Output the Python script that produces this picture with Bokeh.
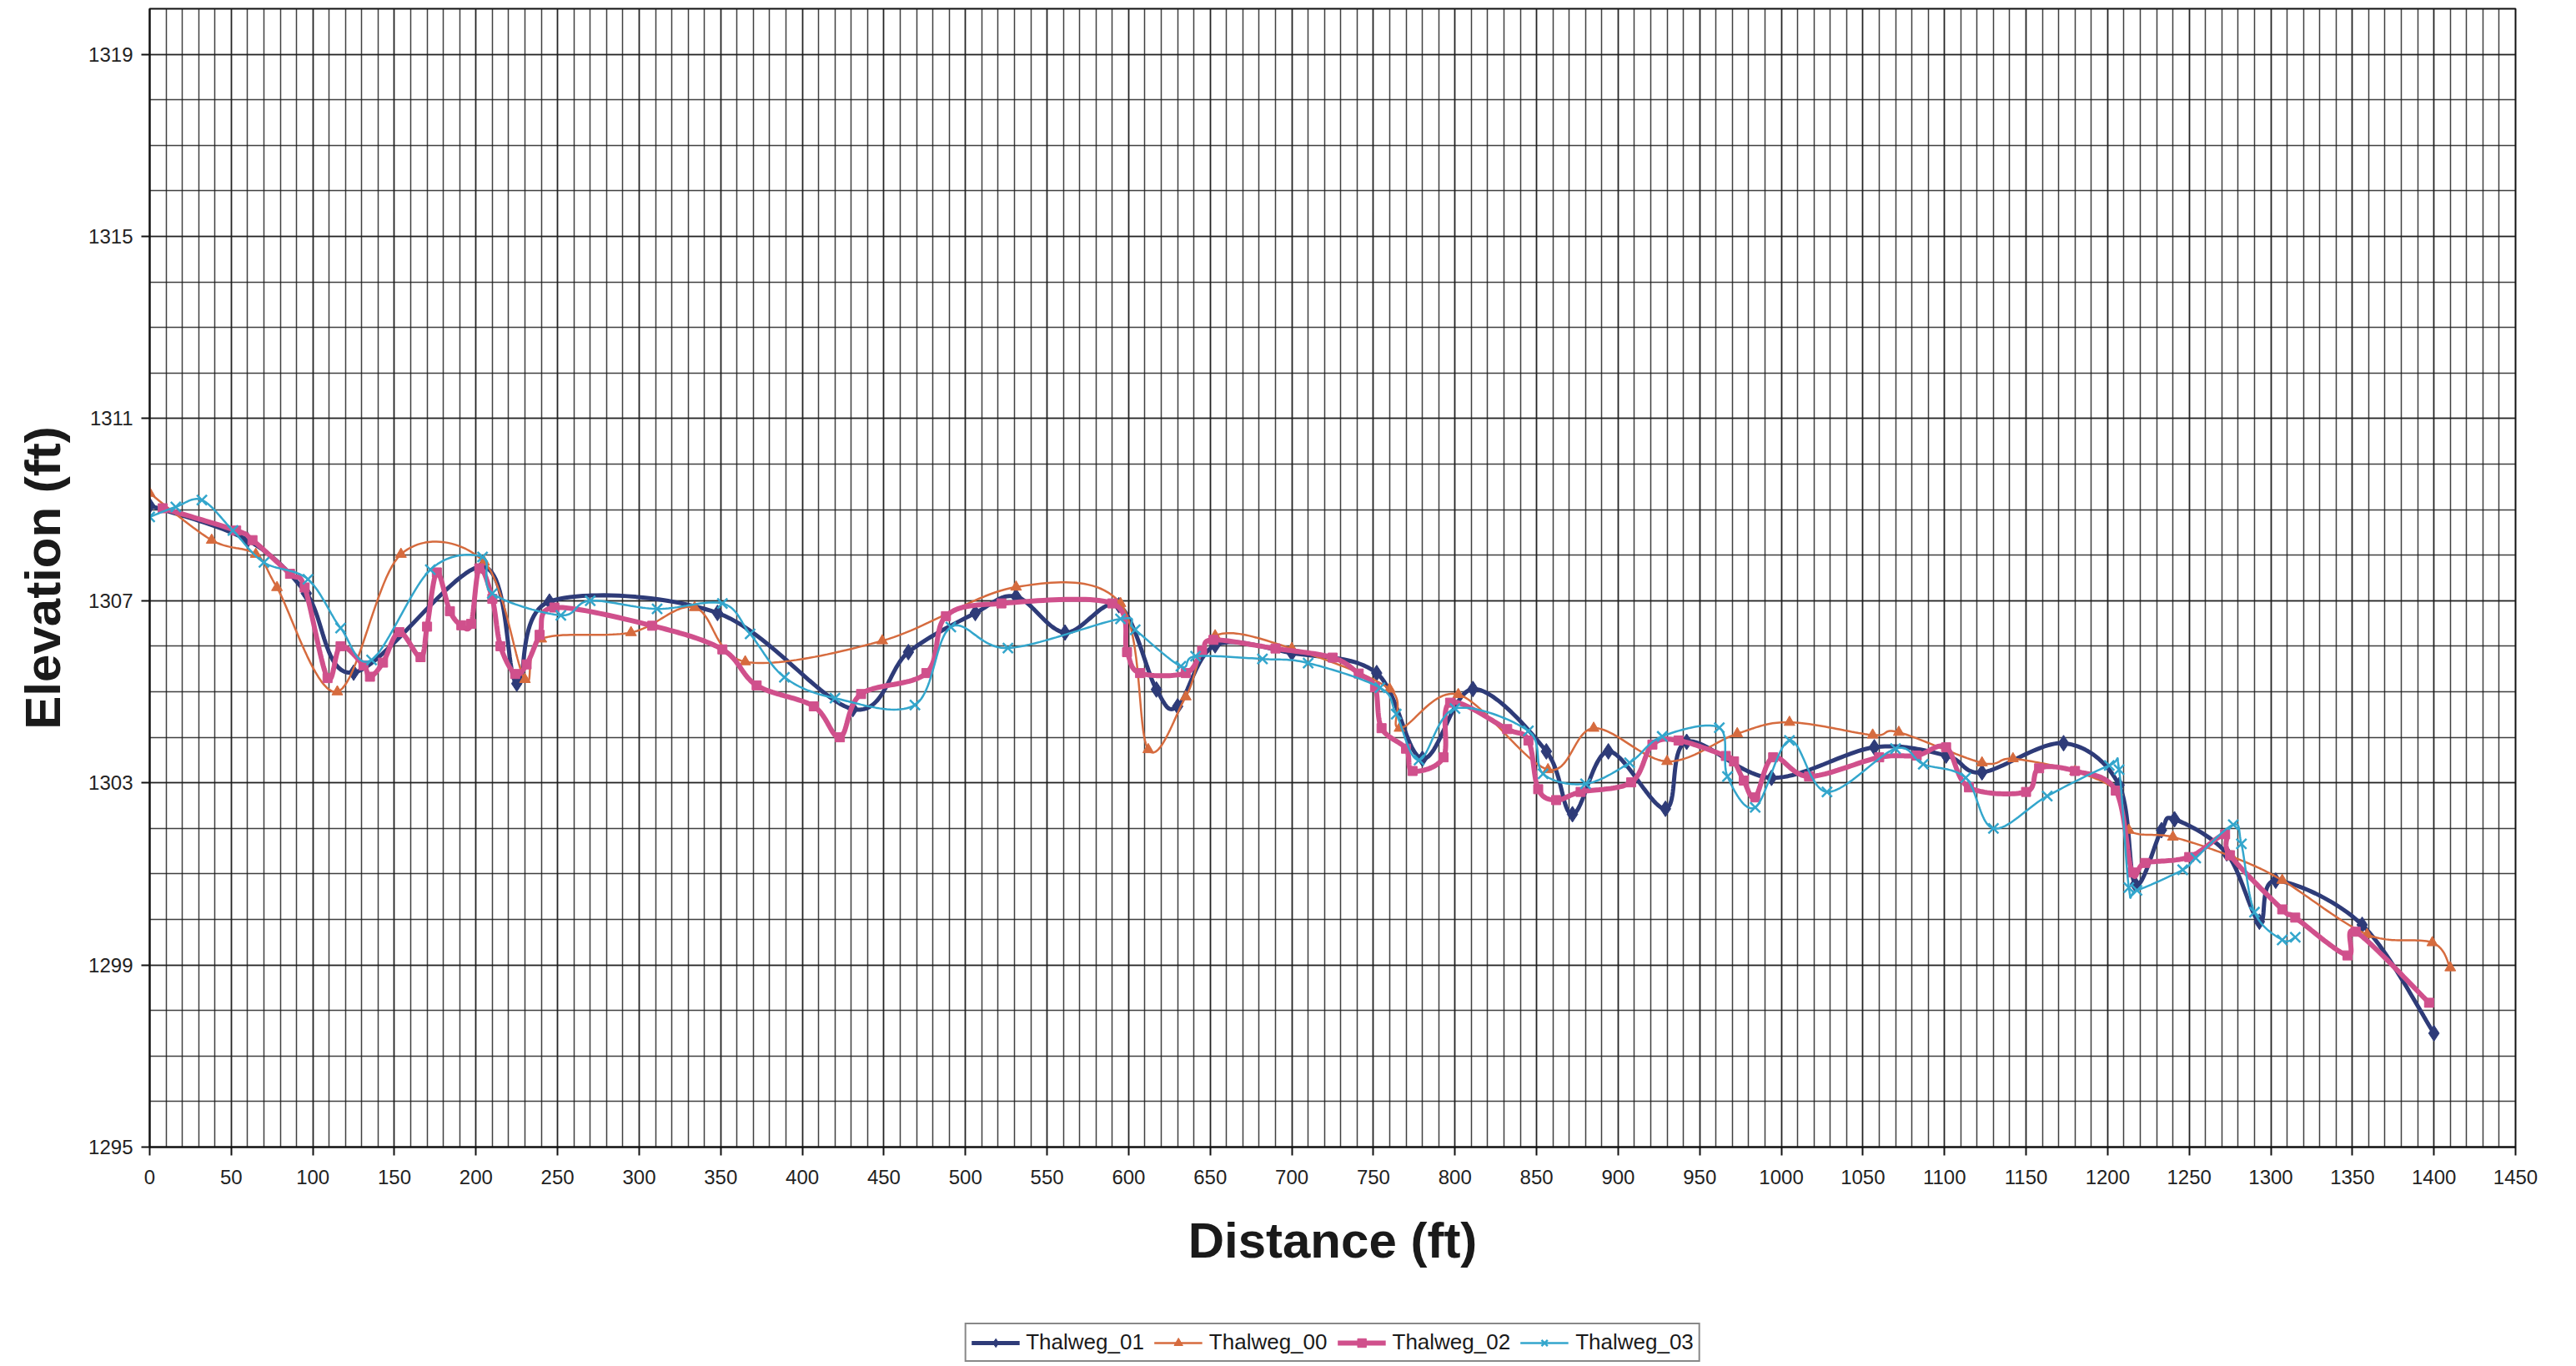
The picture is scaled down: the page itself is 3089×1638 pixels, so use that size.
import numpy as np
from bokeh.plotting import figure
from bokeh.layouts import column
from bokeh.models import Range1d, FixedTicker, Legend, LegendItem
from bokeh.embed import file_html
from bokeh.resources import INLINE

# ---------------- data (distance ft, elevation ft) ----------------
dist_01 = [0, 60, 96, 125, 204, 225, 245, 348, 431, 465, 506, 531, 561, 594, 617, 630, 653, 700, 752, 780,
           811, 856, 872, 894, 929, 942, 994, 1057, 1101, 1123, 1173, 1207, 1217, 1233, 1241, 1273, 1293, 1303, 1356, 1400]
elev_01 = [1309.09, 1308.33, 1307.16, 1305.42, 1307.75, 1305.18, 1306.98, 1306.73, 1304.62, 1305.87,
           1306.73, 1307.09, 1306.30, 1306.90, 1305.05, 1304.68, 1306.02, 1305.85, 1305.41, 1303.53,
           1305.06, 1303.69, 1302.31, 1303.69, 1302.43, 1303.90, 1303.11, 1303.78, 1303.60, 1303.23,
           1303.87, 1302.95, 1300.77, 1301.96, 1302.20, 1301.45, 1299.95, 1300.85, 1299.88, 1297.50]

dist_00 = [0, 38, 65, 78, 115, 154, 205, 230, 240, 295, 334, 365, 449, 531, 595, 612, 635, 653, 700, 760,
           766, 802, 857, 885, 930, 973, 1005, 1056, 1072, 1123, 1142, 1180, 1206, 1213, 1240, 1276, 1307, 1359, 1399, 1410]
elev_00 = [1309.36, 1308.33, 1308.02, 1307.29, 1305.00, 1308.02, 1307.85, 1305.27, 1306.16, 1306.30,
           1306.85, 1305.66, 1306.12, 1307.30, 1306.94, 1303.73, 1304.89, 1306.23, 1305.95, 1305.06,
           1304.20, 1304.94, 1303.29, 1304.20, 1303.47, 1304.08, 1304.33, 1304.05, 1304.11, 1303.44,
           1303.53, 1303.25, 1302.80, 1301.96, 1301.81, 1301.38, 1300.86, 1299.67, 1299.49, 1298.94]

dist_02 = [8, 53, 63, 86, 95, 109, 117, 131, 135, 143, 153, 166, 170, 176, 184, 191, 197, 202, 210, 215,
           224, 231, 239, 248, 308, 351, 372, 407, 423, 436, 476, 488, 522, 590, 599, 607, 635, 645, 652, 690,
           725, 741, 751, 755, 770, 774, 793, 797, 832, 845, 851, 862, 877, 908, 921, 937, 966, 971, 977, 984,
           995, 1017, 1060, 1083, 1101, 1115, 1150, 1158, 1180, 1205, 1215, 1223, 1250, 1272, 1275, 1307, 1315, 1347, 1352, 1397]
elev_02 = [1309.03, 1308.54, 1308.33, 1307.59, 1307.29, 1305.30, 1306.00, 1305.58, 1305.33, 1305.64,
           1306.31, 1305.76, 1306.43, 1307.62, 1306.77, 1306.46, 1306.49, 1307.71, 1307.04, 1306.00,
           1305.39, 1305.60, 1306.25, 1306.85, 1306.45, 1305.93, 1305.14, 1304.68, 1304.00, 1304.95,
           1305.41, 1306.66, 1306.94, 1306.94, 1305.87, 1305.41, 1305.41, 1305.90, 1306.14, 1305.95,
           1305.75, 1305.40, 1305.10, 1304.20, 1303.75, 1303.26, 1303.56, 1304.76, 1304.18, 1303.93,
           1302.86, 1302.62, 1302.80, 1303.01, 1303.84, 1303.93, 1303.59, 1303.47, 1303.05, 1302.68,
           1303.56, 1303.14, 1303.56, 1303.60, 1303.78, 1302.90, 1302.80, 1303.32, 1303.26, 1302.83,
           1301.03, 1301.24, 1301.37, 1301.87, 1301.41, 1300.22, 1300.04, 1299.21, 1299.73, 1298.17]

dist_03 = [0, 16, 32, 51, 70, 97, 117, 136, 172, 204, 210, 252, 270, 311, 351, 368, 389, 420, 469, 491,
           526, 595, 604, 632, 641, 682, 710, 754, 764, 778, 800, 845, 854, 880, 907, 927, 962, 967, 984, 1005,
           1028, 1070, 1087, 1113, 1130, 1163, 1201, 1207, 1213, 1218, 1246, 1254, 1277, 1282, 1290, 1307, 1315]
elev_03 = [1308.84, 1309.06, 1309.21, 1308.54, 1307.84, 1307.47, 1306.40, 1305.70, 1307.68, 1307.96,
           1307.16, 1306.68, 1307.00, 1306.82, 1306.94, 1306.27, 1305.32, 1304.86, 1304.71, 1306.42,
           1305.96, 1306.60, 1306.36, 1305.56, 1305.78, 1305.72, 1305.63, 1305.09, 1304.51, 1303.50,
           1304.63, 1304.14, 1303.20, 1302.98, 1303.44, 1304.02, 1304.21, 1303.14, 1302.46, 1303.93,
           1302.80, 1303.75, 1303.41, 1303.11, 1302.00, 1302.71, 1303.38, 1303.29, 1300.70, 1300.64,
           1301.09, 1301.35, 1302.08, 1301.66, 1300.16, 1299.55, 1299.61]

series_names = ["Thalweg_01", "Thalweg_00", "Thalweg_02", "Thalweg_03"]

x_ticks = list(range(0, 1451, 50))
x_minor = list(range(0, 1451, 10))
y_ticks = [1295, 1299, 1303, 1307, 1311, 1315, 1319]
y_minor = list(range(1295, 1321))


def smooth(xs, ys, n=24):
    """Excel-like smoothed line: cubic Bezier with Catmull-Rom control points."""
    x = np.asarray(xs, float)
    y = np.asarray(ys, float)
    P = np.column_stack([x, y])
    Pe = np.vstack([P[0], P, P[-1]])
    t = np.linspace(0, 1, n, endpoint=False)[:, None]
    out = []
    for i in range(len(P) - 1):
        p0, p1, p2, p3 = Pe[i], Pe[i + 1], Pe[i + 2], Pe[i + 3]
        b1 = p1 + (p2 - p0) / 6.0
        b2 = p2 - (p3 - p1) / 6.0
        seg = ((1 - t) ** 3) * p1 + 3 * ((1 - t) ** 2) * t * b1 + 3 * (1 - t) * t ** 2 * b2 + t ** 3 * p2
        out.append(seg)
    out.append(P[-1][None, :])
    arr = np.vstack(out)
    return arr[:, 0], arr[:, 1]


W = 3078
p = figure(width=W, height=1540, x_range=Range1d(0, 1450), y_range=Range1d(1295, 1320),
           output_backend="svg", toolbar_location=None,
           min_border_left=179, min_border_right=62, min_border_top=10, min_border_bottom=165)
p.background_fill_color = "white"
p.border_fill_color = "white"
p.outline_line_color = "#111111"
p.outline_line_width = 2

xt = FixedTicker(ticks=x_ticks, minor_ticks=x_minor)
yt = FixedTicker(ticks=y_ticks, minor_ticks=y_minor)
xax = p.xaxis[0]
yax = p.yaxis[0]
xax.ticker = xt
yax.ticker = yt
p.xgrid.ticker = xt
p.ygrid.ticker = yt
for g in (p.xgrid, p.ygrid):
    g.grid_line_color = "#1e1e1e"
    g.grid_line_width = 1.5
    g.grid_line_alpha = 0.85
    g.minor_grid_line_color = "#1e1e1e"
    g.minor_grid_line_width = 1.5
    g.minor_grid_line_alpha = 0.85

for ax in (xax, yax):
    ax.axis_line_color = "#111111"
    ax.axis_line_width = 2
    ax.major_tick_line_color = "#111111"
    ax.major_tick_line_width = 2
    ax.major_tick_out = 10
    ax.major_tick_in = 0
    ax.minor_tick_line_color = None
    ax.major_label_text_font = "Liberation Sans"
    ax.major_label_text_font_size = "24px"
    ax.major_label_text_color = "#222222"
    ax.axis_label_text_font = "Liberation Sans"
    ax.axis_label_text_font_style = "bold"
    ax.axis_label_text_font_size = "60px"
    ax.axis_label_text_color = "#1a1a1a"

xax.axis_label = "Distance (ft)"
yax.axis_label = "Elevation (ft)"
xax.major_label_standoff = 17
yax.major_label_standoff = 10
xax.axis_label_standoff = 31
yax.axis_label_standoff = 18

styles = [
    ("#2E3B78", 5, "diamond", 19),
    ("#D66B3E", 2.5, "triangle", 13),
    ("#D0508C", 6, "square", 11),
    ("#33A6CC", 2.5, "x", 17),
]
data = [(dist_01, elev_01), (dist_00, elev_00), (dist_02, elev_02), (dist_03, elev_03)]

# legend strip below the chart (its renderers lie outside its empty view)
p2 = figure(width=W, height=96, x_range=Range1d(-300, -200), y_range=Range1d(1295, 1320),
            output_backend="svg", toolbar_location=None, x_axis_location=None, y_axis_location=None,
            min_border_left=179, min_border_right=62, min_border_top=0, min_border_bottom=0)
p2.outline_line_color = None
p2.grid.visible = False
p2.background_fill_color = "white"
p2.border_fill_color = "white"

items = []
for name, (dx, ey), (col, lw, mk, ms) in zip(series_names, data, styles):
    sx, sy = smooth(dx, ey)
    p.line(sx, sy, line_color=col, line_width=lw)
    lr = p2.line(sx, sy, line_color=col, line_width=lw)
    if mk == "x":
        p.scatter(dx, ey, marker=mk, size=ms, line_color=col, line_width=2.5)
        sr = p2.scatter(dx, ey, marker=mk, size=ms, line_color=col, line_width=2.5)
    else:
        p.scatter(dx, ey, marker=mk, size=ms, fill_color=col, line_color=col)
        sr = p2.scatter(dx, ey, marker=mk, size=ms, fill_color=col, line_color=col)
    items.append(LegendItem(label=name, renderers=[lr, sr]))

legend = Legend(items=items, orientation="horizontal", location="bottom_center")
legend.border_line_color = "#111111"
legend.border_line_width = 2
legend.background_fill_color = "white"
legend.background_fill_alpha = 1.0
legend.label_text_font = "Liberation Sans"
legend.label_text_font_size = "26px"
legend.label_text_color = "#1a1a1a"
legend.glyph_width = 58
legend.glyph_height = 26
legend.label_standoff = 8
legend.spacing = 12
legend.padding = 6
legend.margin = 3
p2.add_layout(legend)

layout = column(p, p2, spacing=0)
open("out.html", "w").write(file_html(layout, INLINE))
